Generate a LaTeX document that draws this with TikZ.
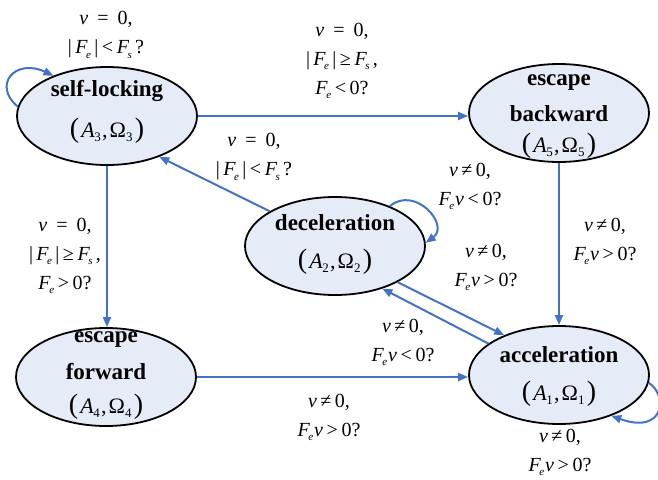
\documentclass[tikz,border=0pt]{standalone}
\usepackage{fontspec}
\setmainfont{Liberation Serif}
\usepackage{graphicx}
\usetikzlibrary{shapes.geometric,arrows.meta}
\definecolor{arrblue}{HTML}{4472C4}
\definecolor{statefill}{HTML}{E6ECF7}
\newcommand{\vv}{\textit{v}}
\newcommand{\sbs}[1]{\raisebox{-0.45ex}{\fontsize{11}{11}\selectfont #1}}
\newcommand{\Fe}{\textit{F}\kern-0.08em\sbs{\textit{e}}}
\newcommand{\Fs}{\textit{F}\kern-0.08em\sbs{\textit{s}}}
\newcommand{\eqsp}{\hspace{0.45em}}
\newcommand{\rel}[1]{\kern0.18em#1\kern0.18em}
\newcommand{\vzero}{\vv\eqsp=\eqsp 0,}
\newcommand{\vne}{\vv\,≠\,0,}
\newcommand{\Fev}[1]{\Fe\kern0.05em\vv\rel{#1}0?}
\newcommand{\AO}[1]{{\fontsize{28}{28}\selectfont(}\kern0.1em\textit{A}\kern-0.02em\raisebox{-0.4ex}{\fontsize{13}{13}\selectfont #1}\kern0.05em,\kern0.1emΩ\raisebox{-0.4ex}{\fontsize{13}{13}\selectfont #1}\kern0.1em{\fontsize{28}{28}\selectfont)}}
\tikzset{
  state/.style={ellipse, draw=black, line width=1.8pt, fill=statefill, minimum width=180pt, minimum height=98pt, inner sep=0pt},
  title/.style={font=\bfseries\fontsize{23}{23}\selectfont, inner sep=0pt},
  pair/.style={font=\fontsize{22}{22}\selectfont, inner sep=0pt},
  lab/.style={align=center, font=\fontsize{20}{29}\selectfont, inner sep=0pt},
  arr/.style={draw=arrblue, line width=2pt, -{Triangle[length=10pt,width=8pt]}, arrblue}
}
\begin{document}
\begin{tikzpicture}[x=1pt,y=-1pt]
\useasboundingbox (0,0) rectangle (658,479);
% states
\node[state] (sl) at (107,116) {};
\node[state] (eb) at (559,113) {};
\node[state] (dec) at (335,246) {};
\node[state] (ef) at (106,377) {};
\node[state] (acc) at (559,375) {};
% state texts
\path (sl.center) ++(0,-25) node[title] (slt) {self-locking};
\path (sl.center) ++(0,15) node[pair] (slp) {\AO{3}};
\path (eb.center) ++(0,-30) node[title] (ebt1) {escape};
\path (eb.center) ++(0,1) node[title] (ebt2) {backward};
\path (eb.center) ++(0,33) node[pair] (ebp) {\AO{5}};
\path (dec.center) ++(0,-23) node[title] (dect) {deceleration};
\path (dec.center) ++(0,16) node[pair] (decp) {\AO{2}};
\path (ef.center) ++(0,-37) node[title] (eft1) {escape};
\path (ef.center) ++(0,-5) node[title] (eft2) {forward};
\path (ef.center) ++(0,30) node[pair] (efp) {\AO{4}};
\path (acc.center) ++(0,-20) node[title] (acct) {acceleration};
\path (acc.center) ++(0,19) node[pair] (accp) {\AO{1}};
% connectors
\draw[arr] (sl.east) -- (sl.east -| eb.west);
\draw[arr] (sl.south) -- (sl.south |- ef.north);
\draw[arr] (eb.south) -- (acc.north);
\draw[arr] (ef.east) -- (ef.east -| acc.west);
\draw[arr] (dec.152) -- (sl.-38);
\draw[arr] (dec.-30) -- (acc.144);
\draw[arr] (acc.156) -- (dec.-42);
\draw[arr] (sl.174) .. controls (-8,85) and (15,58) .. (sl.143);
\draw[arr] (dec.36) .. controls (415,185) and (450,225) .. (dec.2);
\draw[arr] (acc.-5) .. controls (668,395) and (665,435) .. (acc.-38);
% labels
\node[lab] (l1) at (106,35) {\vzero\\ |\,\Fe\,|\rel{<}\Fs\,?};
\node[lab] (l2) at (342,61) {\vzero\\ |\,\Fe\,|\rel{≥}\Fs\,,\\ \Fe\rel{<}0?};
\node[lab] (l3) at (254,157) {\vzero\\ |\,\Fe\,|\rel{<}\Fs\,?};
\node[lab] (l4) at (65,256) {\vzero\\ |\,\Fe\,|\rel{≥}\Fs\,,\\ \Fe\rel{>}0?};
\node[lab] (l5) at (470,186) {\vne\\ \Fev{<}};
\node[lab] (l6) at (605,241) {\vne\\ \Fev{>}};
\node[lab] (l7) at (486,267) {\vne\\ \Fev{>}};
\node[lab] (l8) at (403,342) {\vne\\ \Fev{<}};
\node[lab] (l9) at (329,417) {\vne\\ \Fev{>}};
\node[lab] (l10) at (560,452) {\vne\\ \Fev{>}};
\end{tikzpicture}
\end{document}
